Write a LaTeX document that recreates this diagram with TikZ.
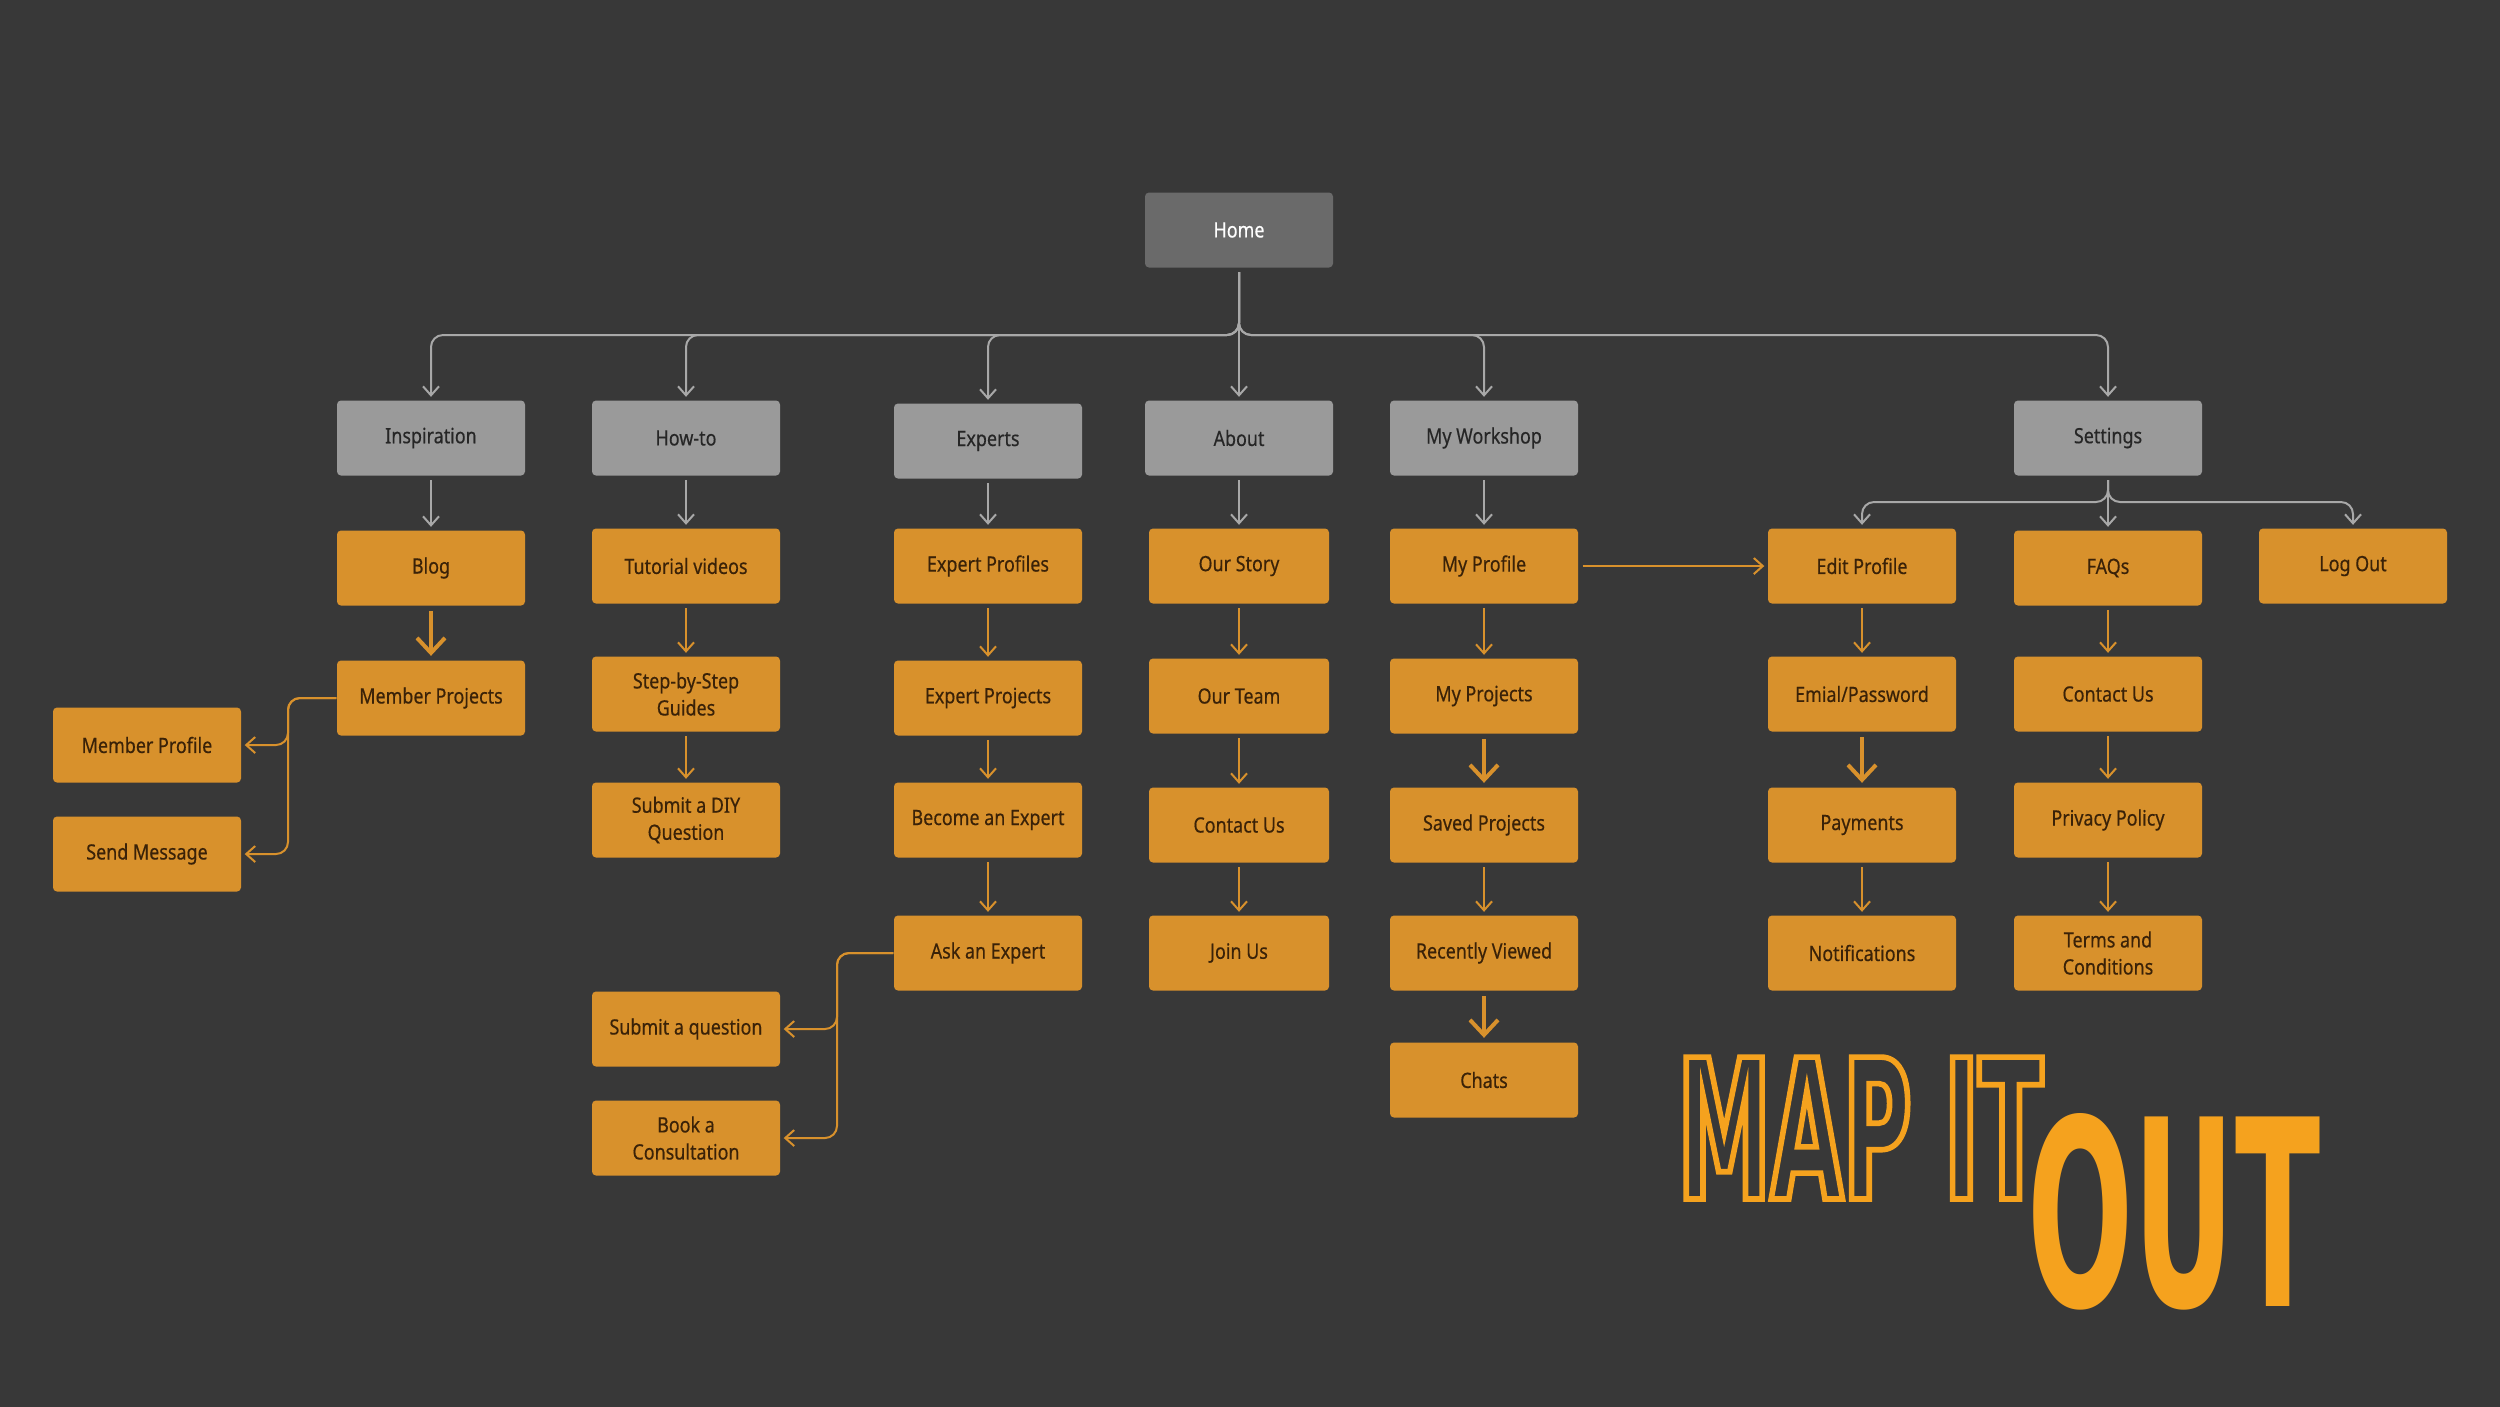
\documentclass[tikz,border=0pt]{standalone}
\usepackage{fontspec}
\setmainfont{Noto Sans}[FakeStretch=0.85, FakeBold=0.4]
\newfontfamily\logofont{DejaVu Sans}[FakeStretch=0.48]
\usetikzlibrary{arrows.meta}

\definecolor{bgdark}{HTML}{383838}
\definecolor{boxorange}{HTML}{D8912C}
\definecolor{boxgray}{HTML}{9A9A9A}
\definecolor{homegray}{HTML}{6A6A6A}
\definecolor{linegray}{HTML}{A8A8A8}
\definecolor{txtbrown}{HTML}{3A2208}
\definecolor{logoorange}{HTML}{F5A21E}

\newcommand{\outlined}[1]{\special{pdf:literal direct 1 Tr 1.6 w}#1\special{pdf:literal direct 0 Tr}}

\tikzset{
  box/.style={rectangle, rounded corners=0.4mm, minimum width=18.8mm,
    minimum height=7.5mm, inner sep=0pt, align=center,
    font=\fontsize{6}{7.7}\selectfont},
  orangebox/.style={box, fill=boxorange, text=txtbrown},
  graybox/.style={box, fill=boxgray, text=black!85},
  homebox/.style={box, fill=homegray, text=white},
  gline/.style={draw=linegray, line width=0.2mm, rounded corners=1.2mm,
    shorten <=0.4mm, shorten >=0.3mm, -{Straight Barb[length=0.9mm,width=1.6mm]}},
  oline/.style={gline, draw=boxorange},
  othick/.style={draw=boxorange, line width=0.4mm, shorten <=0.5mm, shorten >=0.4mm,
    -{Straight Barb[length=1.5mm,width=2.8mm]}},
  logo/.style={anchor=base west, inner sep=0pt, text=logoorange},
}

\begin{document}
\begin{tikzpicture}[x=0.1mm, y=-0.1mm]
  \useasboundingbox (0,0) rectangle (2500,1406);
  \fill[bgdark] (-20,-20) rectangle (2520,1426);

  % top levels
  \node[homebox] (home) at (1239,230) {Home};
  \node[graybox] (insp) at (431,438) {Inspiration};
  \node[graybox] (howto) at (686,438) {How-to};
  \node[graybox] (experts) at (988,441) {Experts};
  \node[graybox] (about) at (1239,438) {About};
  \node[graybox] (workshop) at (1484,438) {My Workshop};
  \node[graybox] (settings) at (2108,438) {Settings};

  % Inspiration
  \node[orangebox] (blog) at (431,568) {Blog};
  \node[orangebox] (mproj) at (431,698) {Member Projects};
  \node[orangebox] (mprofile) at (147,745) {Member Profile};
  \node[orangebox] (sendmsg) at (147,854) {Send Message};
  % How-to
  \node[orangebox] (tutvid) at (686,566) {Tutorial videos};
  \node[orangebox] (steps) at (686,694) {Step-by-Step\\Guides};
  \node[orangebox] (diy) at (686,820) {Submit a DIY\\Question};
  % Experts
  \node[orangebox] (expprof) at (988,566) {Expert Profiles};
  \node[orangebox] (expproj) at (988,698) {Expert Projects};
  \node[orangebox] (become) at (988,820) {Become an Expert};
  \node[orangebox] (ask) at (988,953) {Ask an Expert};
  \node[orangebox] (subq) at (686,1029) {Submit a question};
  \node[orangebox] (book) at (686,1138) {Book a\\Consultation};
  % About
  \node[orangebox, minimum width=18mm] (story) at (1239,566) {Our Story};
  \node[orangebox, minimum width=18mm] (team) at (1239,696) {Our Team};
  \node[orangebox, minimum width=18mm] (contact) at (1239,825) {Contact Us};
  \node[orangebox, minimum width=18mm] (join) at (1239,953) {Join Us};
  % My Workshop
  \node[orangebox] (myprof) at (1484,566) {My Profile};
  \node[orangebox] (myproj) at (1484,696) {My Projects};
  \node[orangebox] (saved) at (1484,825) {Saved Projects};
  \node[orangebox] (recent) at (1484,953) {Recently Viewed};
  \node[orangebox] (chats) at (1484,1080) {Chats};
  % Settings
  \node[orangebox] (editprof) at (1862,566) {Edit Profile};
  \node[orangebox] (email) at (1862,694) {Emial/Password};
  \node[orangebox] (payments) at (1862,825) {Payments};
  \node[orangebox] (notif) at (1862,953) {Notifications};
  \node[orangebox] (faqs) at (2108,568) {FAQs};
  \node[orangebox] (contact2) at (2108,694) {Contact Us};
  \node[orangebox] (privacy) at (2108,820) {Privacy Policy};
  \node[orangebox] (terms) at (2108,953) {Terms and\\Conditions};
  \node[orangebox] (logout) at (2353,566) {Log Out};

  % bus points
  \coordinate (hbus) at (1239,335);
  \coordinate (sbus) at (2108,502);
  \coordinate (jmem) at (288,698);
  \coordinate (jask) at (837,953);

  % Home branches
  \foreach \n in {insp,howto,experts,workshop,settings}
    \draw[gline] (home.south) -- (hbus) -| (\n.north);
  \draw[gline] (home) -- (about);
  \draw[gline] (insp) -- (blog);
  \draw[gline] (howto) -- (tutvid);
  \draw[gline] (experts) -- (expprof);
  \draw[gline] (about) -- (story);
  \draw[gline] (workshop) -- (myprof);
  \foreach \n in {editprof,logout}
    \draw[gline] (settings.south) -- (sbus) -| (\n.north);
  \draw[gline] (settings) -- (faqs);

  % orange links
  \draw[othick] (blog) -- (mproj);
  \draw[oline, shorten <=0pt] (mproj.west) -- (jmem) |- (mprofile.east);
  \draw[oline, shorten <=0pt] (mproj.west) -- (jmem) |- (sendmsg.east);
  \draw[oline] (tutvid) -- (steps);
  \draw[oline] (steps) -- (diy);
  \draw[oline] (expprof) -- (expproj);
  \draw[oline] (expproj) -- (become);
  \draw[oline] (become) -- (ask);
  \draw[oline, shorten <=0pt] (ask.west) -- (jask) |- (subq.east);
  \draw[oline, shorten <=0pt] (ask.west) -- (jask) |- (book.east);
  \draw[oline] (story) -- (team);
  \draw[oline] (team) -- (contact);
  \draw[oline] (contact) -- (join);
  \draw[oline] (myprof) -- (myproj);
  \draw[othick] (myproj) -- (saved);
  \draw[oline] (saved) -- (recent);
  \draw[othick] (recent) -- (chats);
  \draw[oline] (myprof) -- (editprof);
  \draw[oline] (editprof) -- (email);
  \draw[othick] (email) -- (payments);
  \draw[oline] (payments) -- (notif);
  \draw[oline] (faqs) -- (contact2);
  \draw[oline] (contact2) -- (privacy);
  \draw[oline] (privacy) -- (terms);

  % title
  \node[logo, font=\logofont\bfseries\fontsize{55.4}{60}\selectfont] (mapit) at (1677,1199) {\outlined{MAP IT}};
  \node[logo, font=\logofont\bfseries\fontsize{74}{80}\selectfont] (out) at (2027,1306) {OUT};
\end{tikzpicture}
\end{document}
